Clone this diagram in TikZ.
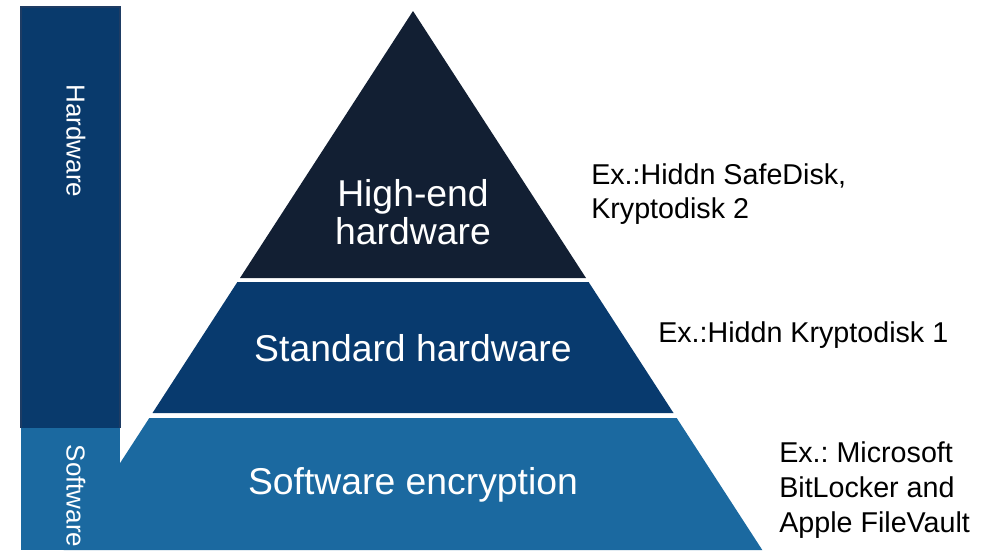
\documentclass[tikz,border=0pt]{standalone}
\usepackage{fontspec}
\setmainfont{Liberation Sans}
\frenchspacing
\definecolor{topc}{HTML}{121F33}
\definecolor{midc}{HTML}{083A6E}
\definecolor{botc}{HTML}{1B69A0}
\definecolor{hwc}{HTML}{093A6C}
\definecolor{hwborder}{HTML}{1E3C64}
\tikzset{
  tierlabel/.style={text=white, font=\fontsize{28}{28}\selectfont, align=center, inner sep=0pt},
  sidelabel/.style={text=white, font=\fontsize{19.5}{22}\selectfont, rotate=-90, inner sep=0pt},
  example/.style={text=black, font=\fontsize{21.5}{25.8}\selectfont, align=left, anchor=west, inner sep=0pt},
}
\begin{document}
\begin{tikzpicture}[x=0.75pt,y=-0.75pt]
\useasboundingbox (0,0) rectangle (1003,550);
% pyramid tiers
\fill[topc] (413,11) -- (586,278) -- (240,278) -- cycle;
\fill[midc] (237.4,282) -- (588.6,282) -- (673.5,413) -- (152.5,413) -- cycle;
\fill[botc] (149.3,418) -- (676.7,418) -- (762.3,550) -- (63.7,550) -- cycle;
% side bars
\fill[hwc] (21,7) rectangle (120,428);
\draw[hwborder, line width=0.9pt] (21,428) -- (21,7) -- (120,7) -- (120,428);
\fill[botc] (21,428) rectangle (120,550);
% labels
\node[tierlabel] (high) at (413,212) {High-end\\hardware};
\node[tierlabel] (std) at (413,348) {Standard hardware};
\node[tierlabel] (soft) at (413,485) {Software encryption};
\node[sidelabel] (hw) at (76,141) {Hardware};
\node[sidelabel] (sw) at (76,496) {Software};
\node[example] (ex1) at (591,194) {Ex.:Hiddn SafeDisk,\\Kryptodisk 2};
\node[example] (ex2) at (658,335) {Ex.:Hiddn Kryptodisk 1};
\node[example, font=\fontsize{21.5}{26.25}\selectfont] (ex3) at (779,490) {Ex.: Microsoft\\BitLocker and\\Apple FileVault};
\end{tikzpicture}
\end{document}
